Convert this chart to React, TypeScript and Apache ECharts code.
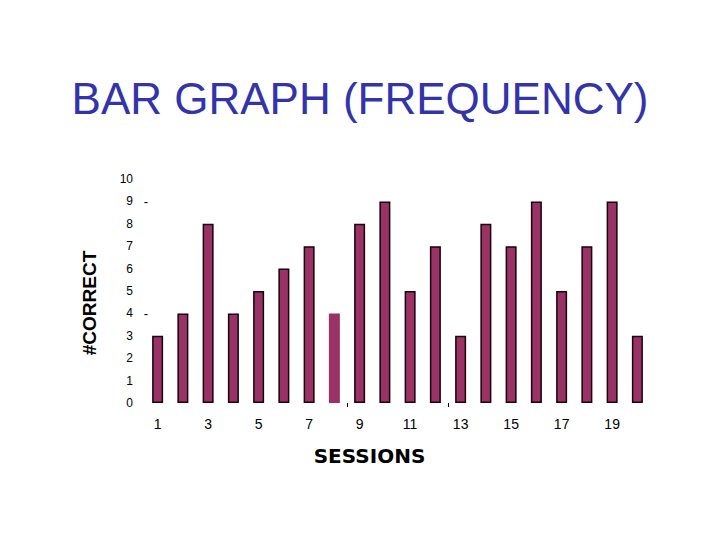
import React, { useEffect, useRef } from 'react';
import * as echarts from 'echarts';

const sessions = ['1', '2', '3', '4', '5', '6', '7', '8', '9', '10', '11', '12', '13', '14', '15', '16', '17', '18', '19', '20'];
const correct = [3, 4, 8, 4, 5, 6, 7, 4, 8, 9, 5, 7, 3, 8, 7, 9, 5, 7, 9, 3];
// session 8 is drawn without the dark outline
const noOutline = ['8'];
// stray tick marks seen in the original
const yDashTicks = [4, 9];
const xStrayTicks = [8, 12];

const BAR_FILL = '#993366';
const OUTLINE = '#1a0008';
const FONT = 'Liberation Sans, Arial, sans-serif';

export default function App() {
  const ref = useRef<HTMLDivElement | null>(null);

  useEffect(() => {
    if (!ref.current) return undefined;
    const chart = echarts.init(ref.current, undefined, { renderer: 'svg' });

    chart.setOption({
      animation: false,
      backgroundColor: '#ffffff',
      title: {
        text: 'BAR GRAPH (FREQUENCY)',
        left: 'center',
        top: 71,
        textStyle: {
          fontFamily: FONT,
          fontWeight: 'normal',
          fontSize: 44,
          color: '#3333aa',
        },
      },
      grid: { left: 145, right: 70, top: 179, bottom: 137, containLabel: false },
      xAxis: [
        {
          type: 'category',
          data: sessions,
          name: 'SESSIONS',
          nameLocation: 'middle',
          nameGap: 43,
          nameTextStyle: {
            fontFamily: 'DejaVu Sans, sans-serif',
            fontWeight: 'bold',
            fontSize: 20,
            color: '#000',
            padding: [0, 56, 0, 0],
          },
          axisLine: { show: false },
          axisTick: { show: false },
          axisLabel: {
            interval: 1,
            margin: 14,
            fontFamily: FONT,
            fontSize: 14,
            color: '#000',
          },
        },
        {
          // only carries the two small stray ticks under the baseline
          type: 'value',
          position: 'bottom',
          min: 0,
          max: sessions.length,
          axisLine: { show: false },
          axisLabel: { show: false },
          splitLine: { show: false },
          axisTick: {
            show: true,
            length: 4,
            customValues: xStrayTicks,
            lineStyle: { color: '#000', width: 1 },
          },
        },
      ],
      yAxis: {
        type: 'value',
        min: 0,
        max: 10,
        interval: 1,
        name: '#CORRECT',
        nameLocation: 'middle',
        nameGap: 46,
        nameRotate: 90,
        nameTextStyle: {
          fontFamily: FONT,
          fontWeight: 'bold',
          fontSize: 19,
          color: '#000',
          padding: [0, 24, 0, 0],
        },
        axisLine: { show: false },
        axisTick: { show: false },
        splitLine: { show: false },
        axisLabel: {
          margin: -3,
          fontFamily: FONT,
          fontSize: 12,
          color: '#000',
          formatter: (v: number) =>
            yDashTicks.includes(v) ? `{n|${v}}{d|-}` : `{n|${v}}{d|}`,
          rich: {
            n: { fontFamily: FONT, fontSize: 12, color: '#000' },
            d: { width: 15, align: 'right', fontFamily: FONT, fontSize: 13, color: '#000' },
          },
        },
      },
      series: [
        {
          type: 'bar',
          xAxisIndex: 0,
          barWidth: 11,
          data: correct.map((v, i) =>
            noOutline.includes(sessions[i])
              ? { value: v, itemStyle: { borderWidth: 0 } }
              : v,
          ),
          itemStyle: {
            color: BAR_FILL,
            borderColor: OUTLINE,
            borderWidth: 1.5,
          },
        },
      ],
    });

    return () => {
      chart.dispose();
    };
  }, []);

  return (
    <div
      ref={ref}
      style={{ position: 'absolute', left: 0, top: 0, width: 720, height: 540 }}
    />
  );
}
